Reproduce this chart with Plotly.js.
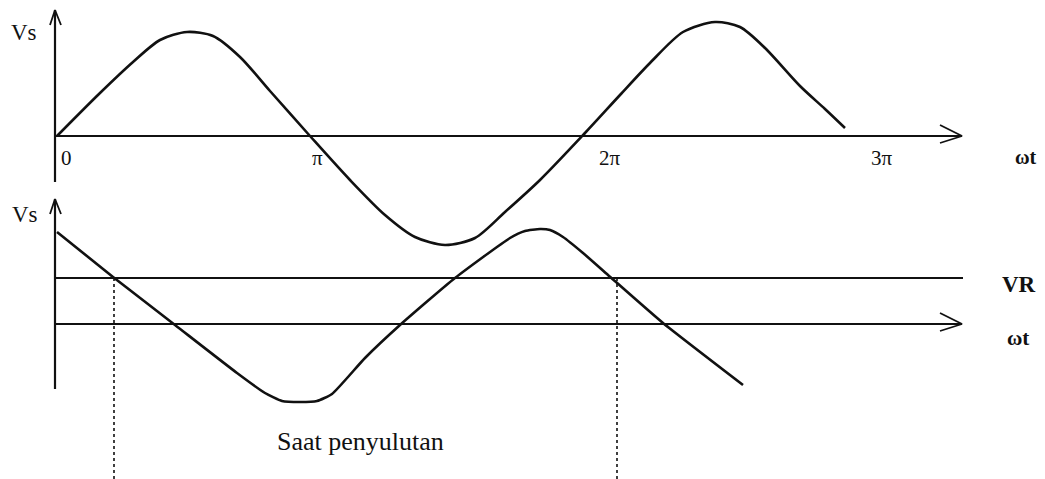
<!DOCTYPE html>
<html><head><meta charset="utf-8">
<script src="https://cdn.plot.ly/plotly-3.0.1.min.js"></script>
<style>html,body{margin:0;padding:0;background:#fff}#c{width:1045px;height:479px}</style>
</head><body><div id="c"></div>
<script>
// Upper waveform Vs (screen-like units)
const topX = [57, 100, 133, 160, 187, 213, 240, 270, 310, 350, 385, 415, 445, 475, 505, 540, 585, 620, 650, 683, 715, 740, 765, 800, 825, 845];
const topY = [136, 93, 62, 40, 32, 36, 57, 91, 136, 180, 215, 237, 245, 238, 212, 180, 133, 95, 63, 32, 22, 27, 48, 86, 109, 128];
// Lower waveform (triangular-like)
const botX = [57, 113, 175, 237, 265, 282, 300, 317, 332, 365, 400, 455, 510, 525, 540, 550, 563, 583, 608, 663, 743];
const botY = [232, 277, 325, 373, 393, 401, 402, 401, 394, 358, 325, 278, 238, 231, 229, 230, 237, 253, 275, 323, 385];
// Reference levels
const topAxisY = 136, botAxisY = 324, vrY = 278;
const axisX = 55;
const firingX = [114, 617];
const tickLabels = ['0', 'π', '2π', '3π'];
const tickX = [66, 317, 610, 882];

const blk = '#111';
const traces = [];
function line(xs, ys, w, dash) {
  traces.push({x: xs, y: ys, mode: 'lines', line: {color: blk, width: w, dash: dash || 'solid'}, hoverinfo: 'skip', showlegend: false});
}
// top axes
line([axisX, axisX], [10, 182], 2.2);
line([axisX - 5, axisX, axisX + 6], [25, 10, 25], 1.8);
line([axisX, 962], [topAxisY, topAxisY], 2);
line([940, 962, 940], [125, topAxisY, 143], 1.8);
// bottom axes
line([axisX, axisX], [199, 389], 2.2);
line([axisX - 5, axisX, axisX + 6], [214, 199, 214], 1.8);
line([axisX, 962], [botAxisY, botAxisY], 2);
line([940, 962, 940], [313, botAxisY, 331], 1.8);
line([axisX, 963], [vrY, vrY], 2);
// firing dotted lines
firingX.forEach(fx => line([fx, fx], [vrY, 479], 1.6, 'dot'));
// waveforms
traces.push({x: topX, y: topY, mode: 'lines', line: {color: blk, width: 2.6, shape: 'spline', smoothing: 0.8}, hoverinfo: 'skip', showlegend: false});
traces.push({x: botX, y: botY, mode: 'lines', line: {color: blk, width: 2.6, shape: 'spline', smoothing: 0.5}, hoverinfo: 'skip', showlegend: false});

const serif = 'Liberation Serif, Times New Roman, serif';
const ann = [];
function txt(t, x, y, size, bold, xanchor) {
  ann.push({text: bold ? '<b>' + t + '</b>' : t, x: x, y: y, xref: 'x', yref: 'y', showarrow: false,
    xanchor: xanchor || 'center', yanchor: 'middle', font: {family: serif, size: size, color: blk}});
}
tickLabels.forEach((t, i) => txt(t, tickX[i], 158, 21, false));
txt('Vs', 24, 32, 23, false);
txt('Vs', 25, 214, 23, false);
txt('ωt', 1026, 157, 20, true);
txt('VR', 1019, 284, 23, true);
txt('ωt', 1018, 338, 21, true);
txt('Saat penyulutan', 360, 441, 26, false);

Plotly.newPlot('c', traces, {
  width: 1045, height: 479,
  margin: {l: 0, r: 0, t: 0, b: 0},
  paper_bgcolor: '#fff', plot_bgcolor: '#fff',
  xaxis: {range: [0, 1045], visible: false, fixedrange: true},
  yaxis: {range: [479, 0], visible: false, fixedrange: true},
  annotations: ann
}, {staticPlot: true});
</script></body></html>
